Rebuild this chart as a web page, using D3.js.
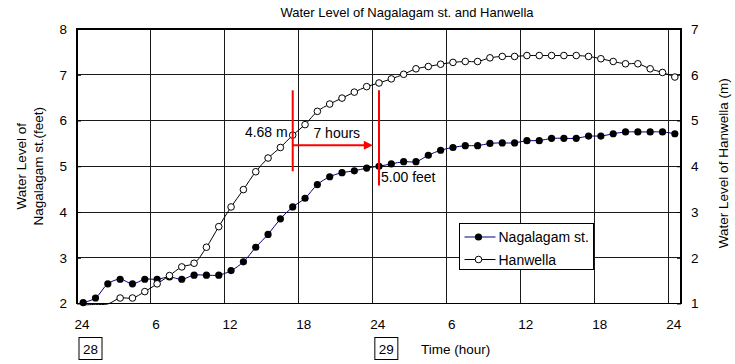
<!DOCTYPE html>
<html>
<head>
<meta charset="utf-8">
<script src="https://cdn.jsdelivr.net/npm/d3@7"></script>
<style>
  html, body { margin: 0; padding: 0; background: #fff; }
  svg { display: block; font-family: "Liberation Sans", Arial, sans-serif; }
</style>
</head>
<body>
<svg id="chart" width="735" height="364"></svg>
<script>
// Hourly readings from 24:00 on the 28th through 24:00 on the 29th
const hours = d3.range(49);
const hourTickLabels = ["24", "6", "12", "18", "24", "6", "12", "18", "24"];
const dayLabels = ["28", "29"];

// Nagalagam st. water level (feet, left axis)
const nagalagam = [
  2.02, 2.12, 2.43, 2.53, 2.43, 2.53, 2.53, 2.58, 2.53, 2.62,
  2.62, 2.62, 2.72, 2.91, 3.23, 3.51, 3.85, 4.11, 4.30, 4.60,
  4.77, 4.86, 4.90, 4.96, 5.00, 5.05, 5.10, 5.10, 5.24, 5.35,
  5.41, 5.45, 5.45, 5.50, 5.51, 5.51, 5.56, 5.56, 5.61, 5.61,
  5.61, 5.66, 5.66, 5.71, 5.75, 5.75, 5.75, 5.75, 5.71
];

// Hanwella water level (m, right axis)
const hanwella = [
  0.97, 0.98, 0.99, 1.12, 1.12, 1.26, 1.43, 1.61, 1.80, 1.88,
  2.23, 2.68, 3.11, 3.49, 3.88, 4.18, 4.41, 4.68, 4.91, 5.20,
  5.36, 5.49, 5.62, 5.74, 5.82, 5.91, 6.01, 6.13, 6.18, 6.23,
  6.27, 6.29, 6.29, 6.37, 6.40, 6.40, 6.42, 6.42, 6.42, 6.42,
  6.42, 6.40, 6.35, 6.29, 6.24, 6.24, 6.13, 6.05, 5.95
];

const leftTicks = [2, 3, 4, 5, 6, 7, 8];
const rightTicks = [1, 2, 3, 4, 5, 6, 7];

// Travel-time annotation: Hanwella peak passage vs. Nagalagam st. response
const lagStart = 17, lagEnd = 24;

const svg = d3.select("#chart");
const plot = { left: 77, right: 681, top: 29, bottom: 303.5 };

const x = d3.scaleBand().domain(hours).range([plot.left, plot.right]).padding(0);
const cx = i => x(i) + x.bandwidth() / 2;
const edge = i => (i < hours.length ? x(i) : plot.right);
const yL = d3.scaleLinear().domain([2, 8]).range([plot.bottom, plot.top]);
const yR = d3.scaleLinear().domain([1, 7]).range([plot.bottom, plot.top]);

// Title
svg.append("text")
  .attr("x", 407).attr("y", 17)
  .attr("text-anchor", "middle")
  .attr("font-size", 13)
  .text("Water Level of Nagalagam st. and Hanwella");

// Grid
const grid = svg.append("g").attr("stroke", "#1a1a1a").attr("stroke-width", 1).attr("shape-rendering", "crispEdges");
leftTicks.slice(1, -1).forEach(v => {
  grid.append("line").attr("x1", plot.left).attr("x2", plot.right)
    .attr("y1", yL(v)).attr("y2", yL(v));
});
d3.range(6, 49, 6).forEach(b => {
  grid.append("line").attr("x1", edge(b)).attr("x2", edge(b))
    .attr("y1", plot.top).attr("y2", plot.bottom);
});

// Frame
svg.append("rect")
  .attr("x", plot.left).attr("y", plot.top)
  .attr("width", plot.right - plot.left).attr("height", plot.bottom - plot.top)
  .attr("fill", "none").attr("stroke", "#000").attr("stroke-width", 1.2)
  .attr("shape-rendering", "crispEdges");

// Left axis
const axL = svg.append("g").attr("transform", `translate(${plot.left},0)`)
  .call(d3.axisLeft(yL).tickValues(leftTicks).tickSize(-4).tickPadding(10).tickFormat(d3.format("d")));
axL.select(".domain").remove();
axL.selectAll("text").attr("font-size", 13.5).attr("font-family", "Liberation Sans, Arial, sans-serif").attr("fill", "#000");
axL.selectAll("line").attr("stroke", "#000");

// Right axis
const axR = svg.append("g").attr("transform", `translate(${plot.right},0)`)
  .call(d3.axisRight(yR).tickValues(rightTicks).tickSize(-4).tickPadding(10).tickFormat(d3.format("d")));
axR.select(".domain").remove();
axR.selectAll("text").attr("font-size", 13.5).attr("font-family", "Liberation Sans, Arial, sans-serif").attr("fill", "#000");
axR.selectAll("line").attr("stroke", "#000");

// Bottom hour labels at the category boundaries
const tickBounds = d3.range(0, 49, 6);
svg.append("g").selectAll("text").data(tickBounds).join("text")
  .attr("x", b => edge(b) + 5)
  .attr("y", 329)
  .attr("text-anchor", "middle")
  .attr("font-size", 13.5)
  .text((b, k) => hourTickLabels[k]);

// Day boxes
[0, 24].forEach((b, k) => {
  const g = svg.append("g").attr("transform", `translate(${edge(b) + 2},337.5)`);
  g.append("rect").attr("width", 23).attr("height", 22)
    .attr("fill", "#fff").attr("stroke", "#000").attr("stroke-width", 1);
  g.append("text").attr("x", 11.5).attr("y", 16).attr("text-anchor", "middle")
    .attr("font-size", 13.5).text(dayLabels[k]);
});
svg.append("text").attr("x", 421).attr("y", 354).attr("font-size", 13.5).text("Time (hour)");

// Axis titles
const leftTitle = svg.append("text")
  .attr("transform", `translate(26,${(plot.top + plot.bottom) / 2}) rotate(-90)`)
  .attr("text-anchor", "middle").attr("font-size", 13.5);
leftTitle.append("tspan").attr("x", 0).attr("dy", 0).text("Water Level of");
leftTitle.append("tspan").attr("x", 0).attr("dy", 17).text("Nagalagam st.(feet)");

svg.append("text")
  .attr("transform", `translate(728,${(plot.top + plot.bottom) / 2 - 3}) rotate(-90)`)
  .attr("text-anchor", "middle").attr("font-size", 13.5)
  .text("Water Level of Hanwella (m)");

// Series lines
const lineN = d3.line().x((d, i) => cx(i)).y(d => yL(d)).curve(d3.curveCatmullRom.alpha(0.5));
const lineH = d3.line().x((d, i) => cx(i)).y(d => yR(d)).curve(d3.curveCatmullRom.alpha(0.5));

svg.append("path").datum(nagalagam).attr("d", lineN)
  .attr("fill", "none").attr("stroke", "#000080").attr("stroke-width", 1);
svg.append("g").selectAll("circle").data(nagalagam).join("circle")
  .attr("cx", (d, i) => cx(i)).attr("cy", d => yL(d)).attr("r", 3.6).attr("fill", "#000");

svg.append("path").datum(hanwella).attr("d", lineH)
  .attr("fill", "none").attr("stroke", "#000").attr("stroke-width", 1);
svg.append("g").selectAll("circle")
  .data(hanwella.map((v, i) => ({ v, i })).filter(d => d.v >= 1))
  .join("circle")
  .attr("cx", d => cx(d.i)).attr("cy", d => yR(d.v)).attr("r", 3.3)
  .attr("fill", "#fff").attr("stroke", "#000").attr("stroke-width", 1);

// Red lag annotation
const red = "#ff0000";
const ann = svg.append("g");
ann.append("line")
  .attr("x1", cx(lagStart)).attr("x2", cx(lagStart))
  .attr("y1", yL(6.66)).attr("y2", yL(4.89))
  .attr("stroke", red).attr("stroke-width", 2);
ann.append("line")
  .attr("x1", cx(lagEnd)).attr("x2", cx(lagEnd))
  .attr("y1", yL(6.66)).attr("y2", yL(4.58))
  .attr("stroke", red).attr("stroke-width", 2);
const arrowY = yL(5.46);
const tipX = edge(lagEnd);
ann.append("line")
  .attr("x1", cx(lagStart)).attr("x2", tipX - 8)
  .attr("y1", arrowY).attr("y2", arrowY)
  .attr("stroke", red).attr("stroke-width", 2);
ann.append("path")
  .attr("d", `M${tipX},${arrowY} L${tipX - 9},${arrowY - 4.5} L${tipX - 9},${arrowY + 4.5} Z`)
  .attr("fill", red);

svg.append("text").attr("x", cx(lagStart) - 5).attr("y", yR(hanwella[lagStart]) + 2)
  .attr("text-anchor", "end").attr("font-size", 14)
  .text(`${hanwella[lagStart].toFixed(2)} m`);
svg.append("text").attr("x", (cx(lagStart) + tipX) / 2 + 4).attr("y", arrowY - 7)
  .attr("text-anchor", "middle").attr("font-size", 14)
  .text(`${lagEnd - lagStart} hours`);
svg.append("text").attr("x", cx(lagEnd) + 2).attr("y", yL(nagalagam[lagEnd]) + 16)
  .attr("font-size", 14)
  .text(`${nagalagam[lagEnd].toFixed(2)} feet`);

// Legend
const lg = svg.append("g").attr("transform", "translate(459.5,223.5)");
lg.append("rect").attr("width", 134).attr("height", 46)
  .attr("fill", "#fff").attr("stroke", "#000").attr("stroke-width", 1);
const legendItems = [
  { name: "Nagalagam st.", stroke: "#000080", fill: "#000", r: 3.6, sw: 0 },
  { name: "Hanwella", stroke: "#000", fill: "#fff", r: 3.3, sw: 1 }
];
legendItems.forEach((d, k) => {
  const yy = 13.5 + k * 22.5;
  lg.append("line").attr("x1", 5).attr("x2", 36).attr("y1", yy).attr("y2", yy)
    .attr("stroke", d.stroke).attr("stroke-width", 1);
  lg.append("circle").attr("cx", 19).attr("cy", yy).attr("r", d.r)
    .attr("fill", d.fill).attr("stroke", "#000").attr("stroke-width", d.sw);
  lg.append("text").attr("x", 39).attr("y", yy + 5).attr("font-size", 14).text(d.name);
});
</script>
</body>
</html>
